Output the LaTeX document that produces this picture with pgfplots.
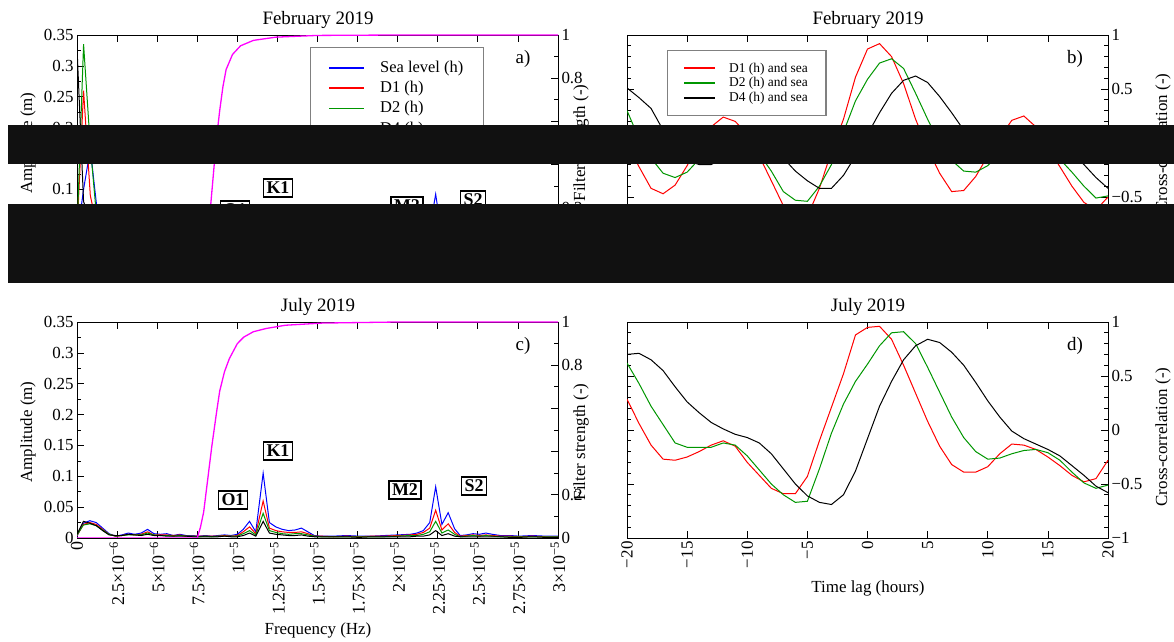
\documentclass[border=0pt]{standalone}
\usepackage{fontspec}
\setmainfont{Liberation Serif}
\usepackage{pgfplots}
\usepackage{pgfplotstable}
\pgfplotsset{compat=1.18}

\definecolor{seablue}{RGB}{0,0,255}
\definecolor{dred}{RGB}{255,0,0}
\definecolor{dgreen}{RGB}{0,150,0}
\definecolor{filtmag}{RGB}{255,0,255}
\definecolor{barblack}{RGB}{17,17,17}

\newcommand{\sci}[2]{#1×10\textsuperscript{−#2}}
\newcommand{\fs}[1]{\fontsize{#1}{#1}\selectfont}

% amplitude spectra, frequency in 1e-6 Hz
\pgfplotstableread{
f sea d1 d2 d4
0.00 0.020 0.030 0.030 0.330
0.41 0.100 0.260 0.335 0.080
0.83 0.165 0.090 0.170 0.050
1.24 0.070 0.040 0.050 0.030
1.65 0.030 0.020 0.025 0.015
2.07 0.020 0.015 0.015 0.010
2.48 0.015 0.010 0.010 0.008
2.90 0.018 0.012 0.010 0.008
3.31 0.020 0.013 0.010 0.008
3.72 0.014 0.010 0.008 0.006
4.14 0.015 0.010 0.008 0.006
4.96 0.010 0.008 0.006 0.005
5.79 0.012 0.008 0.006 0.005
6.62 0.008 0.006 0.005 0.004
7.44 0.008 0.006 0.005 0.004
8.27 0.009 0.006 0.005 0.004
9.10 0.010 0.007 0.005 0.004
9.93 0.008 0.006 0.004 0.003
10.35 0.015 0.010 0.007 0.004
10.76 0.035 0.022 0.015 0.009
11.17 0.012 0.008 0.006 0.004
11.61 0.065 0.040 0.027 0.016
12.00 0.020 0.013 0.009 0.006
12.82 0.012 0.008 0.006 0.004
13.65 0.010 0.007 0.005 0.003
14.48 0.008 0.006 0.004 0.003
15.72 0.006 0.004 0.003 0.002
17.38 0.006 0.004 0.003 0.002
19.03 0.006 0.004 0.003 0.002
20.27 0.008 0.006 0.004 0.003
21.10 0.012 0.008 0.005 0.003
21.52 0.016 0.010 0.006 0.004
21.96 0.030 0.018 0.011 0.006
22.37 0.092 0.050 0.030 0.014
22.76 0.025 0.015 0.009 0.005
23.15 0.038 0.021 0.012 0.006
23.55 0.015 0.009 0.006 0.003
24.00 0.008 0.005 0.004 0.002
25.24 0.007 0.005 0.003 0.002
26.48 0.006 0.004 0.003 0.002
27.72 0.005 0.004 0.003 0.002
28.96 0.005 0.003 0.002 0.002
30.00 0.005 0.003 0.002 0.002
}\specfeb

\pgfplotstableread{
f sea d1 d2 d4
0.0 0.003 0.004 0.005 0.006
0.4 0.024 0.022 0.021 0.027
0.8 0.028 0.025 0.023 0.024
1.2 0.025 0.022 0.020 0.020
1.6 0.016 0.014 0.013 0.012
2.0 0.007 0.006 0.006 0.005
2.4 0.003 0.003 0.003 0.004
2.8 0.005 0.004 0.004 0.004
3.2 0.008 0.006 0.005 0.006
3.6 0.006 0.005 0.005 0.005
4.0 0.008 0.006 0.005 0.004
4.4 0.014 0.010 0.008 0.006
4.8 0.007 0.005 0.005 0.004
5.2 0.006 0.005 0.004 0.004
5.6 0.007 0.005 0.004 0.003
6.0 0.004 0.004 0.003 0.003
6.4 0.006 0.005 0.004 0.003
6.8 0.004 0.003 0.003 0.003
7.2 0.004 0.003 0.003 0.002
7.6 0.003 0.003 0.002 0.002
8.0 0.004 0.003 0.003 0.002
8.4 0.003 0.003 0.002 0.002
8.8 0.004 0.003 0.003 0.002
9.2 0.005 0.004 0.003 0.003
9.6 0.004 0.003 0.003 0.002
10.0 0.006 0.004 0.003 0.002
10.37 0.014 0.010 0.007 0.004
10.76 0.027 0.018 0.012 0.008
11.15 0.010 0.007 0.005 0.003
11.61 0.105 0.060 0.040 0.027
12.0 0.025 0.016 0.012 0.008
12.4 0.018 0.012 0.009 0.006
12.8 0.014 0.010 0.007 0.005
13.2 0.012 0.009 0.006 0.004
13.6 0.013 0.009 0.007 0.004
14.0 0.016 0.010 0.007 0.005
14.4 0.010 0.007 0.005 0.003
14.8 0.004 0.003 0.003 0.002
15.2 0.003 0.003 0.002 0.002
16.0 0.003 0.002 0.002 0.002
16.8 0.004 0.003 0.002 0.002
17.6 0.003 0.002 0.002 0.001
18.4 0.003 0.003 0.002 0.002
19.2 0.004 0.003 0.002 0.002
20.0 0.005 0.004 0.003 0.002
20.8 0.006 0.005 0.004 0.002
21.2 0.008 0.006 0.004 0.003
21.6 0.012 0.009 0.006 0.003
22.0 0.025 0.016 0.010 0.005
22.37 0.083 0.045 0.027 0.012
22.76 0.022 0.013 0.008 0.004
23.15 0.041 0.023 0.013 0.007
23.55 0.015 0.009 0.006 0.003
23.9 0.004 0.003 0.002 0.002
24.3 0.005 0.004 0.003 0.002
24.7 0.007 0.005 0.004 0.002
25.1 0.006 0.004 0.003 0.002
25.5 0.008 0.005 0.004 0.002
25.9 0.006 0.004 0.003 0.002
26.4 0.004 0.003 0.002 0.002
27.0 0.004 0.003 0.002 0.001
27.6 0.003 0.002 0.002 0.001
28.4 0.004 0.003 0.002 0.002
29.2 0.003 0.002 0.002 0.001
30.0 0.003 0.002 0.002 0.001
}\specjul

% high-pass filter strength
\pgfplotstableread{
f w
0 0
7.9 0
8.1 0.06
8.3 0.18
8.5 0.35
8.7 0.52
8.9 0.65
9.1 0.76
9.3 0.84
9.7 0.91
10.2 0.95
11.0 0.975
12.4 0.99
15.0 0.998
20.0 1
30.0 1
}\filtfeb

\pgfplotstableread{
f w
0 0
7.5 0
7.7 0.05
7.9 0.12
8.1 0.24
8.4 0.42
8.7 0.58
8.9 0.68
9.2 0.77
9.5 0.83
10.0 0.90
10.4 0.93
11.0 0.955
11.8 0.97
13.0 0.985
15.3 0.995
20 1
30 1
}\filtjul

% cross-correlation with sea level, lag in hours
\pgfplotstableread{
t d1 d2 d4
-20 0.00 0.30 0.51
-19 -0.22 0.04 0.42
-18 -0.42 -0.14 0.32
-17 -0.47 -0.28 0.12
-16 -0.39 -0.32 -0.05
-15 -0.21 -0.27 -0.16
-14 0.02 -0.15 -0.20
-13 0.15 -0.02 -0.20
-12 0.24 0.06 -0.14
-11 0.20 0.08 -0.05
-10 0.08 0.02 0.02
-9 -0.12 -0.10 0.04
-8 -0.35 -0.26 -0.02
-7 -0.58 -0.45 -0.14
-6 -0.72 -0.53 -0.26
-5 -0.68 -0.54 -0.35
-4 -0.42 -0.40 -0.42
-3 -0.08 -0.20 -0.42
-2 0.22 0.10 -0.30
-1 0.61 0.39 -0.12
0 0.87 0.59 0.08
1 0.92 0.74 0.28
2 0.80 0.78 0.46
3 0.55 0.69 0.58
4 0.22 0.46 0.62
5 -0.05 0.22 0.56
6 -0.28 0.00 0.43
7 -0.45 -0.16 0.28
8 -0.44 -0.26 0.12
9 -0.31 -0.27 0.00
10 -0.12 -0.21 -0.08
11 0.05 -0.10 -0.12
12 0.21 0.00 -0.12
13 0.25 0.05 -0.06
14 0.15 0.04 0.02
15 -0.05 -0.05 0.06
16 -0.22 -0.15 0.03
17 -0.40 -0.27 -0.10
18 -0.55 -0.40 -0.20
19 -0.62 -0.51 -0.32
20 -0.50 -0.49 -0.42
}\ccfeb

\pgfplotstableread{
t d1 d2 d4
-20 0.285 0.62 0.70
-19 0.06 0.43 0.71
-18 -0.14 0.22 0.65
-17 -0.27 0.05 0.55
-16 -0.28 -0.12 0.40
-15 -0.25 -0.16 0.26
-14 -0.20 -0.16 0.16
-13 -0.14 -0.16 0.07
-12 -0.10 -0.12 0.01
-11 -0.15 -0.14 -0.04
-10 -0.30 -0.24 -0.07
-9 -0.42 -0.37 -0.12
-8 -0.54 -0.50 -0.22
-7 -0.59 -0.60 -0.36
-6 -0.59 -0.67 -0.50
-5 -0.43 -0.66 -0.61
-4 -0.10 -0.36 -0.67
-3 0.21 -0.03 -0.69
-2 0.52 0.24 -0.60
-1 0.88 0.45 -0.38
0 0.95 0.61 -0.08
1 0.96 0.78 0.22
2 0.84 0.90 0.45
3 0.60 0.91 0.65
4 0.34 0.80 0.78
5 0.08 0.58 0.84
6 -0.15 0.35 0.81
7 -0.32 0.12 0.72
8 -0.39 -0.07 0.60
9 -0.39 -0.20 0.44
10 -0.34 -0.27 0.27
11 -0.22 -0.26 0.12
12 -0.13 -0.22 -0.01
13 -0.14 -0.19 -0.08
14 -0.18 -0.18 -0.13
15 -0.25 -0.21 -0.18
16 -0.33 -0.28 -0.24
17 -0.42 -0.39 -0.33
18 -0.48 -0.49 -0.42
19 -0.45 -0.54 -0.52
20 -0.28 -0.51 -0.58
}\ccjul

\tikzset{
  constit/.style={draw, line width=1.3bp, fill=white, inner xsep=3bp, inner ysep=3bp, font=\fs{18}\bfseries},
}

\pgfplotsset{
  panel/.style={
    scale only axis, width=481bp, height=216bp, anchor=south west,
    axis line style={line width=0.8bp},
    every tick/.style={line width=0.7bp, black},
    major tick length=7bp, minor tick length=4bp, tick align=inside,
    ticklabel style={font=\fs{17}},
    every axis plot/.append style={line width=1bp},
    legend cell align=left,
  },
  ampaxis/.style={
    panel, xmin=0, xmax=30, ymin=0, ymax=0.35,
    xtick={0,2.5,5,7.5,10,12.5,15,17.5,20,22.5,25,27.5,30},
    xtick pos=both,
    ytick={0,0.05,0.1,0.15,0.2,0.25,0.3,0.35},
    yticklabels={0,0.05,0.1,0.15,0.2,0.25,0.3,0.35},
    ytick pos=left, minor y tick num=1,
  },
  filtaxis/.style={
    panel, xmin=0, xmax=30, ymin=0, ymax=1,
    axis x line=none, axis y line*=right, tick align=inside,
    ytick={0,0.2,0.4,0.6,0.8,1}, yticklabels={0,0.2,,,0.8,1},
    minor y tick num=1,
  },
  ccaxis/.style={
    panel, xmin=-20, xmax=20, ymin=-1, ymax=1,
    xtick={-20,-15,-10,-5,0,5,10,15,20}, xtick pos=both,
    ytick={-1,-0.5,0,0.5,1}, yticklabels={−1,−0.5,0,0.5,1},
    ytick pos=both, yticklabel pos=right, minor y tick num=4,
  },
}

\begin{document}
\begin{tikzpicture}
\useasboundingbox (0bp,0bp) rectangle (1174bp,642bp);

% ---- a) February spectra ----
\begin{axis}[ampaxis, at={(77bp,391bp)}, xticklabels={},
  legend style={at={(rel axis cs:0.484,0.944)}, anchor=north west,
    draw=gray, line width=1.3bp, font=\fs{16.5}, inner xsep=18bp, inner ysep=11bp,
    row sep=2.5bp, nodes={inner sep=2bp, text depth=0.25em}, /tikz/every odd column/.append style={column sep=13bp}},
  legend image code/.code={\draw[#1, line width=1.7bp] (0bp,0bp) -- (35bp,0bp);}]
\addplot[seablue] table[x=f,y=sea] {\specfeb};
\addplot[dred] table[x=f,y=d1] {\specfeb};
\addplot[dgreen] table[x=f,y=d2] {\specfeb};
\addplot[black] table[x=f,y=d4] {\specfeb};
\legend{Sea level (h),D1 (h),D2 (h),D4 (h)}
\end{axis}
\begin{axis}[filtaxis, at={(77bp,391bp)}]
\addplot[filtmag, line width=1.3bp] table[x=f,y=w] {\filtfeb};
\end{axis}

% ---- c) July spectra ----
\begin{axis}[ampaxis, at={(77bp,104bp)},
  xticklabels={0,\sci{2.5}{6},\sci{5}{6},\sci{7.5}{6},10\textsuperscript{−5},\sci{1.25}{5},\sci{1.5}{5},\sci{1.75}{5},\sci{2}{5},\sci{2.25}{5},\sci{2.5}{5},\sci{2.75}{5},\sci{3}{5}},
  xticklabel style={rotate=90, anchor=east, font=\fs{18}}]
\addplot[seablue] table[x=f,y=sea] {\specjul};
\addplot[dred] table[x=f,y=d1] {\specjul};
\addplot[dgreen] table[x=f,y=d2] {\specjul};
\addplot[black] table[x=f,y=d4] {\specjul};
\end{axis}
\begin{axis}[filtaxis, at={(77bp,104bp)}]
\addplot[filtmag, line width=1.3bp] table[x=f,y=w] {\filtjul};
\end{axis}

% ---- b) February cross-correlation ----
\begin{axis}[ccaxis, at={(627bp,391bp)}, xticklabels={},
  legend style={at={(rel axis cs:0.083,0.93)}, anchor=north west,
    draw=gray, line width=1.2bp, font=\fs{13.5}, inner xsep=16bp, inner ysep=10bp,
    row sep=0bp, nodes={inner sep=2bp}, /tikz/every odd column/.append style={column sep=11bp}},
  legend image code/.code={\draw[#1, line width=1.6bp] (0bp,0bp) -- (31bp,0bp);}]
\addplot[dred] table[x=t,y=d1] {\ccfeb};
\addplot[dgreen] table[x=t,y=d2] {\ccfeb};
\addplot[black] table[x=t,y=d4] {\ccfeb};
\legend{D1 (h) and sea,D2 (h) and sea,D4 (h) and sea}
\end{axis}

% ---- d) July cross-correlation ----
\begin{axis}[ccaxis, at={(627bp,104bp)},
  xticklabels={−20,−15,−10,−5,0,5,10,15,20},
  xticklabel style={rotate=90, anchor=east}]
\addplot[dred] table[x=t,y=d1] {\ccjul};
\addplot[dgreen] table[x=t,y=d2] {\ccjul};
\addplot[black] table[x=t,y=d4] {\ccjul};
\end{axis}

% titles, axis labels, panel letters
\node[font=\fs{19}] at (318bp,622bp) {February 2019};
\node[font=\fs{19}] at (868bp,622bp) {February 2019};
\node[font=\fs{19}] at (318bp,335bp) {July 2019};
\node[font=\fs{19}] at (868bp,335bp) {July 2019};
\node[font=\fs{19}] at (523bp,583bp) {a)};
\node[font=\fs{19}] at (1075bp,583bp) {b)};
\node[font=\fs{19}] at (523bp,296bp) {c)};
\node[font=\fs{19}] at (1075bp,296bp) {d)};
\node[font=\fs{17}, rotate=90] at (28bp,499bp) {Amplitude (m)};
\node[font=\fs{17}, rotate=90] at (28bp,210bp) {Amplitude (m)};
\node[font=\fs{17}, rotate=90] at (581bp,499bp) {Filter strength (-)};
\node[font=\fs{17}, rotate=90] at (581bp,200bp) {Filter strength (-)};
\node[font=\fs{17}, rotate=90] at (1163bp,499bp) {Cross-correlation (-)};
\node[font=\fs{17}, rotate=90] at (1163bp,205bp) {Cross-correlation (-)};
\node[font=\fs{17}] at (318bp,12bp) {Frequency (Hz)};
\node[font=\fs{17}] at (868bp,54bp) {Time lag (hours)};

% tidal constituents
\node[constit] at (278bp,454bp) {K1};
\node[constit] at (235bp,432bp) {O1};
\node[constit] at (407bp,436bp) {M2};
\node[constit] at (473bp,442bp) {S2};
\node[constit] at (278bp,191bp) {K1};
\node[constit] at (233bp,142bp) {O1};
\node[constit] at (405bp,152bp) {M2};
\node[constit] at (474bp,156bp) {S2};

% masked bands
\fill[barblack] (8bp,478bp) rectangle (1174bp,517bp);
\fill[barblack] (8bp,359bp) rectangle (1174bp,438bp);
\end{tikzpicture}
\end{document}
